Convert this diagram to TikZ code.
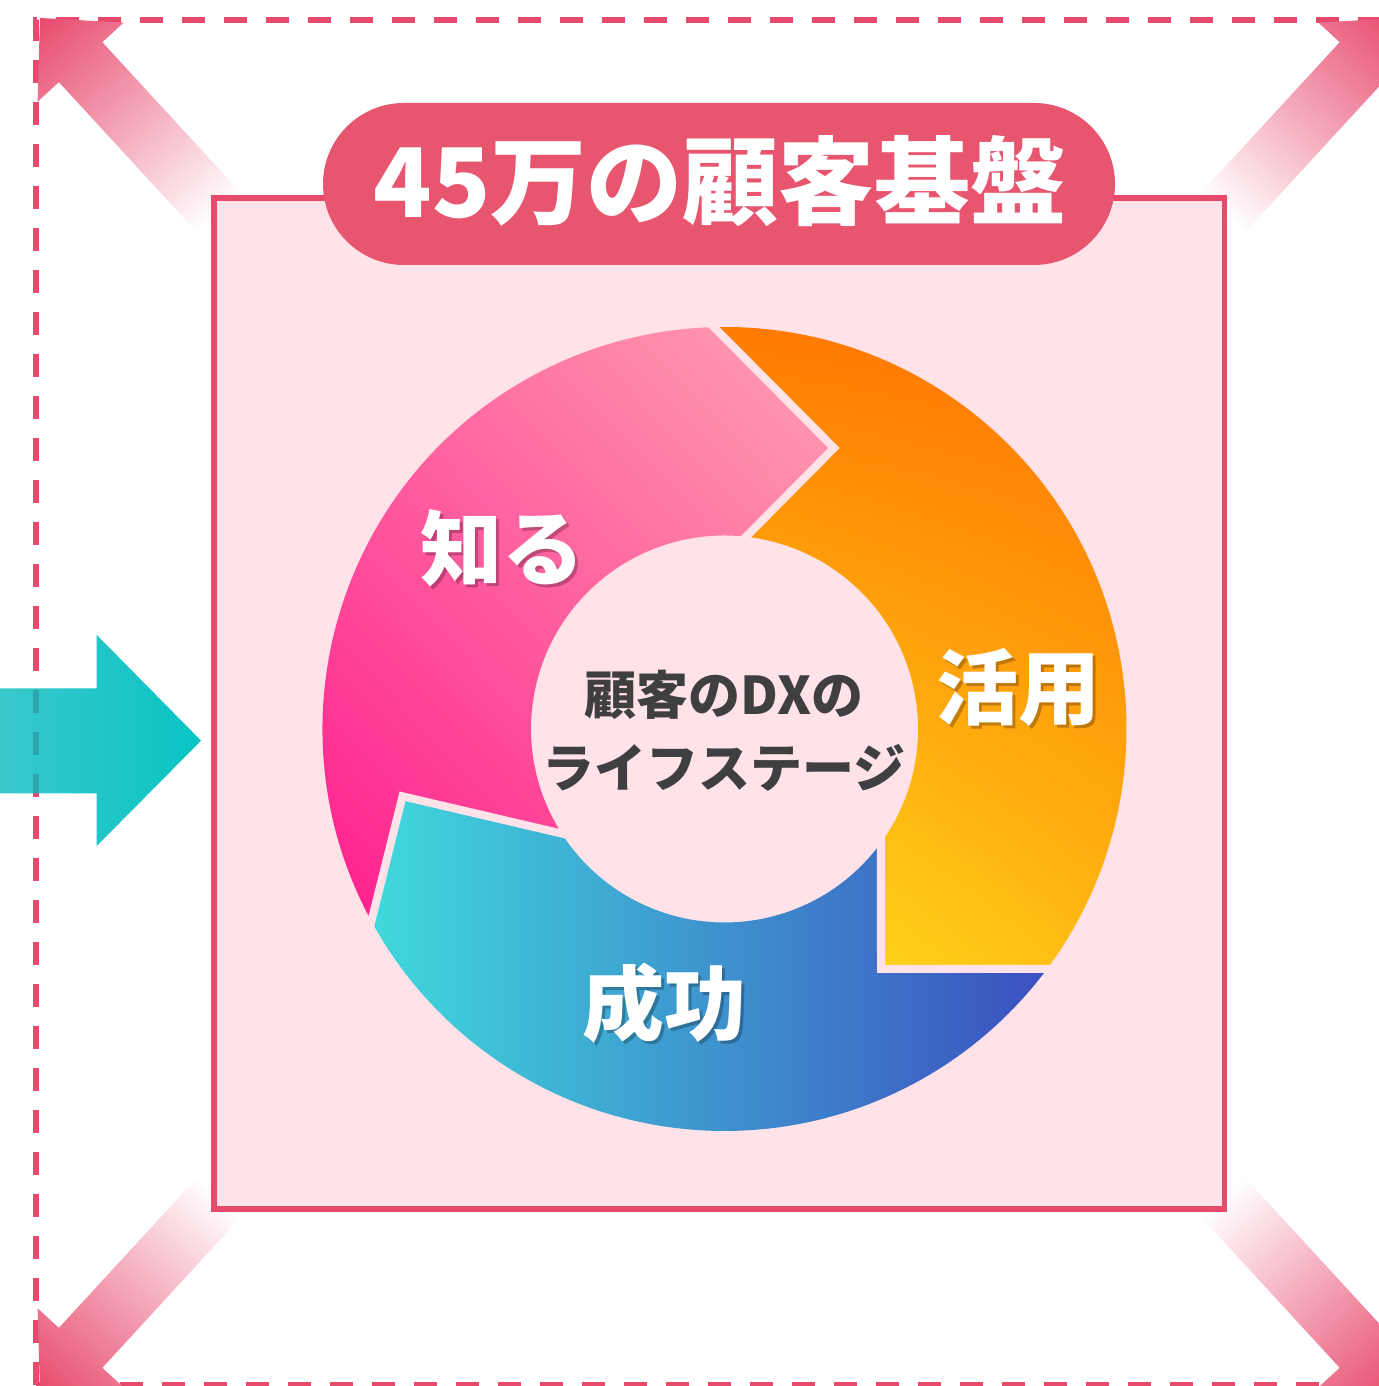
\documentclass[tikz,border=0pt]{standalone}
\usepackage{fontspec}
\setmainfont{Noto Sans CJK JP}
\usetikzlibrary{fadings,shadings,calc}
\definecolor{pinkc}{HTML}{E84A6E}
\definecolor{titlec}{HTML}{E8556F}
\definecolor{boxbg}{HTML}{FFE3E8}
\definecolor{pinkA}{HTML}{FFA2B0}
\definecolor{pinkB}{HTML}{FF168C}
\definecolor{pinkM}{HTML}{FF5C9E}
\definecolor{oraUL}{HTML}{FF7A00}
\definecolor{oraUR}{HTML}{FF7300}
\definecolor{oraLR}{HTML}{FFB812}
\definecolor{oraLL}{HTML}{FFE41E}
\definecolor{tealA}{HTML}{3FD9DC}
\definecolor{tealB}{HTML}{3C4FC0}
\definecolor{arrA}{RGB}{0,184,188}
\definecolor{arrB}{RGB}{10,197,197}
\definecolor{textc}{HTML}{3F3F42}
\tikzfading[name=tealfade, left color=transparent!24, right color=transparent!0]
\tikzset{
  dashframe/.style={pinkc, line width=3pt, dash pattern=on 11.5pt off 9.5pt},
  gapline/.style={boxbg, line width=4pt, line join=miter, shorten <=-3pt, shorten >=-3pt},
  ringlabel/.style={text=white, font=\fontsize{41}{41}\selectfont\bfseries, inner sep=0pt},
  ringshadow/.style={text=black, opacity=0.25, font=\fontsize{41}{41}\selectfont\bfseries, inner sep=0pt},
  titletext/.style={text=white, font=\fontsize{48}{48}\selectfont\bfseries, inner sep=0pt},
  centertext/.style={text=textc, align=center, font=\fontsize{26}{36.5}\selectfont\bfseries, inner sep=0pt},
}
\begin{document}
\begin{tikzpicture}[x=0.5pt,y=0.5pt]
\useasboundingbox (0,0) rectangle (1378,1386);
\fill[white] (0,0) rectangle (1378,1386);
% dashed frame
\draw[dashframe] (35.5,1) -- (35.5,1366.3) -- (1420,1366.3);
\draw[dashframe] (35.5,1) -- (1420,1);
% corner arrows
\foreach \px/\py/\ang in {40/1368/132.6, 1402/1368/47.4, 40/-6/227.4, 1402/-6/312.6}{
  \begin{scope}[transform canvas={shift={(\px,\py)},rotate=\ang}]
    \shade[left color=white, right color=pinkc]
      (0,0) -- (-60,58.4) -- (-60,29.5) -- (-265,29.5) -- (-265,-29.5) -- (-60,-29.5) -- (-60,-58.4) -- cycle;
  \end{scope}
}
% main box
\draw[pinkc, line width=2.75pt, fill=boxbg] (214,1188) rectangle (1224.7,177);
% title pill
\fill[titlec, rounded corners=40.5pt] (323,1283) rectangle (1115,1121);
\node[titletext] (ttl) at (720,1205) {45万の顧客基盤};
% ring
\coordinate (C) at (724.5,657);
\def\Ro{402}
\def\Ri{193.5}
\coordinate (O1) at ($(C)+(208.55:\Ro)$);
\coordinate (I1) at ($(C)+(212.7:\Ri)$);
\coordinate (V1) at (402.5,589.7);
\coordinate (O2) at ($(C)+(91.5:\Ro)$);
\coordinate (I2) at ($(C)+(83.6:\Ri)$);
\coordinate (V2) at (834,938);
\coordinate (O3) at ($(C)+(-36.65:\Ro)$);
\coordinate (I3) at ($(C)+(-36.07:\Ri)$);
\coordinate (V3) at (881,417);
\shade[upper right=pinkA, lower left=pinkB, upper left=pinkM, lower right=pinkM]
  (O1) arc[start angle=208.55, end angle=91.5, radius=\Ro] -- (V2) -- (I2)
  arc[start angle=83.6, end angle=212.7, radius=\Ri] -- (V1) -- cycle;
\shade[upper right=oraUR, lower left=oraLL, upper left=oraUL, lower right=oraLR]
  (O2) arc[start angle=91.5, end angle=-36.65, radius=\Ro] -- (V3) -- (I3)
  arc[start angle=-36.07, end angle=83.6, radius=\Ri] -- (V2) -- cycle;
\shade[left color=tealA, right color=tealB]
  (O3) arc[start angle=-36.65, end angle=-151.45, radius=\Ro] -- (V1) -- (I1)
  arc[start angle=-147.3, end angle=-36.07, radius=\Ri] -- (V3) -- cycle;
\draw[gapline] (O1) -- (V1) -- (I1);
\draw[gapline] (O2) -- (V2) -- (I2);
\draw[gapline] (O3) -- (V3) -- (I3);
% labels
\node[ringshadow] (s1) at (505,835) {知る};
\node[ringlabel] (l1) at (502,838) {知る};
\node[ringshadow] (s2) at (1021,695) {活用};
\node[ringlabel] (l2) at (1018,698) {活用};
\node[ringshadow] (s3) at (667,380) {成功};
\node[ringlabel] (l3) at (664,383) {成功};
\node[centertext] (ctr) at (724,655) {顧客のDXの\\ライフステージ};
% teal arrow
\path[left color=arrA, right color=arrB, path fading=tealfade]
  (-10,697.7) -- (96.7,697.7) -- (96.7,751) -- (201,645.3) -- (96.7,540) -- (96.7,592.7) -- (-10,592.7) -- cycle;
\end{tikzpicture}
\end{document}
